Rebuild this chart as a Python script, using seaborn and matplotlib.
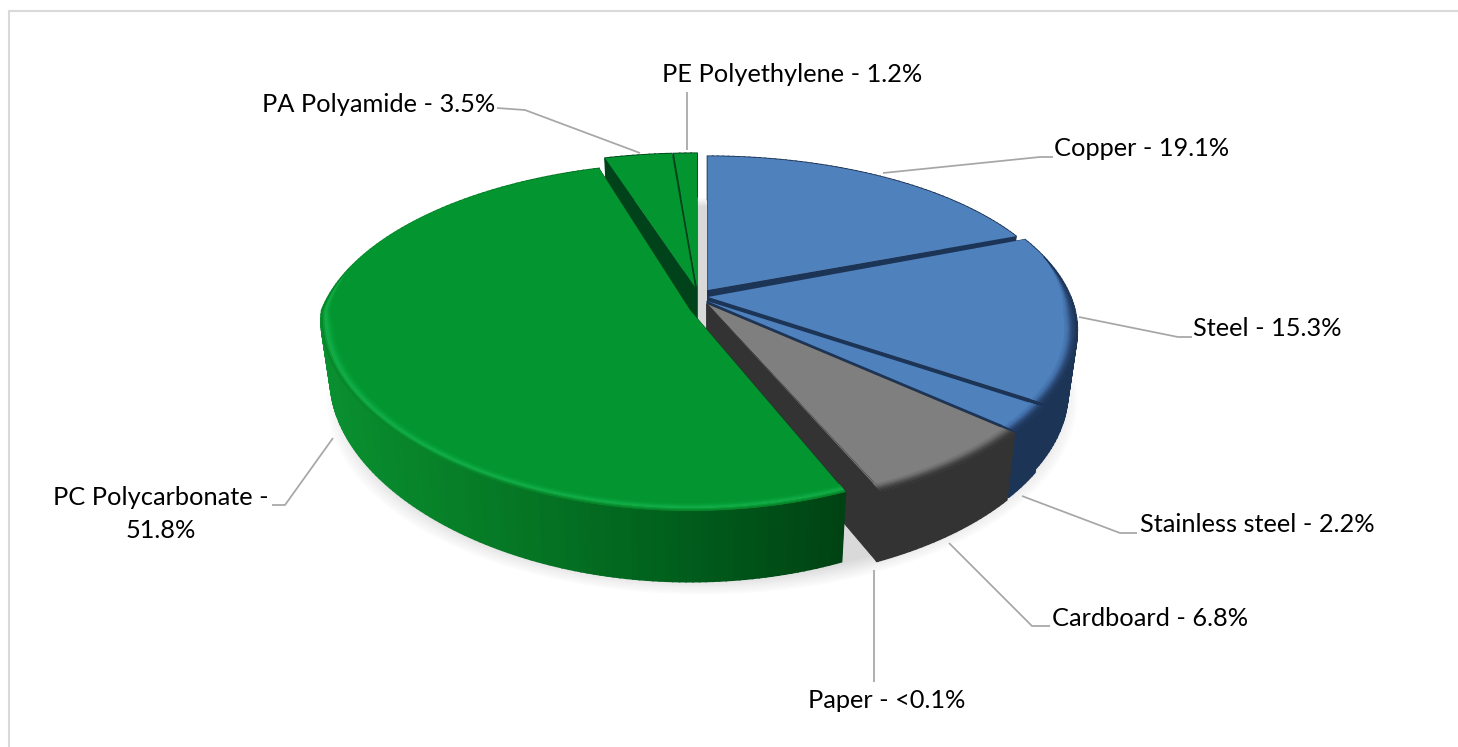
#! /usr/bin/env python3
import numpy as np
import matplotlib
matplotlib.use("Agg")
import matplotlib.pyplot as plt
import matplotlib.transforms as mtransforms
from matplotlib.patches import Polygon
import seaborn as sns

sns.set_theme(style="white")
plt.rcParams["font.family"] = ["Lato", "DejaVu Sans"]

categories = ["Copper", "Steel", "Stainless steel", "Cardboard", "Paper",
              "PC Polycarbonate", "PA Polyamide", "PE Polyethylene"]
values = [19.1, 15.3, 2.2, 6.8, 0.05, 51.8, 3.5, 1.2]
value_text = ["19.1%", "15.3%", "2.2%", "6.8%", "<0.1%", "51.8%", "3.5%", "1.2%"]

top_colors = ["#4f81bd", "#4f81bd", "#4f81bd", "#7f7f7f", "#7f7f7f", "#03952f", "#03952f", "#03952f"]
wall_colors = ["#1c3456", "#1c3456", "#1c3456", "#333333", "#333333", "#00461a", "#00431a", "#00431a"]
bevel_colors = {"#4f81bd": ["#4f81bd", "#426fa8", "#2a4672", "#1c3456"],
                "#7f7f7f": ["#7f7f7f", "#6c6c6c", "#484848", "#333333"],
                "#03952f": ["#03952f", "#07a03a", "#15b24c", "#07862a"]}
rim_green = sns.blend_palette(["#0a9030", "#067a26", "#005f1c", "#003f12"], 64)

# pixel position of each wedge tip, and its radius scale in x and y
tips = [(707.5, 290), (708, 297), (707, 301), (707, 304), (707, 304), (690, 310), (695, 287), (697, 287)]
scales_x = [0.95, 0.975, 0.975, 0.97, 0.97, 0.99, 0.98, 0.98]
scales_y = [0.91, 0.975, 0.975, 0.97, 0.97, 1.0, 0.91, 0.91]
draw_order = [7, 6, 0, 1, 2, 3, 4, 5]

R, S, K = 372, 174.6, 0.188
FRONT = {5: (0.06, 0.13)}  # PC is drawn with a flatter front


def project(u, v, i, level=0.0):
    u, v = np.asarray(u, float), np.asarray(v, float)
    kx, ky = FRONT.get(i, (K, K))
    dx = 1 + np.where(v > 0, K, kx) * v
    dy = 1 + np.where(v > 0, K, ky) * v
    x = tips[i][0] + R * scales_x[i] * (1 - 0.025 * level) * u / dx
    y = tips[i][1] - S * scales_y[i] * (1 - 0.025 * level) * v / dy + level * (58 - 18 * v)
    return x, y


class Tilt(mtransforms.Transform):
    input_dims = output_dims = 2
    is_separable = False
    has_inverse = False

    def __init__(self, i):
        super().__init__()
        self.i = i

    def transform_non_affine(self, values):
        x, y = project(values[:, 0], values[:, 1], self.i)
        return np.column_stack([x, y])


fig = plt.figure(figsize=(14.58, 7.47), dpi=100)
ax = fig.add_axes([0, 0, 1, 1])
wedges, _ = ax.pie(values, startangle=90, counterclock=False, wedgeprops={"linewidth": 0})
ax.set_aspect("auto")
ax.set_xlim(0, 1458)
ax.set_ylim(747, 0)
ax.axis("off")

# soft shadow under the disc
t = np.linspace(0, 2 * np.pi, 240)
for grow, alpha in zip(np.linspace(1.04, 0.98, 10), [0.025] * 4 + [0.03] * 6):
    sx, sy = project(np.cos(t) * grow, np.sin(t) * grow, 1, 1.0)
    ax.add_patch(Polygon(np.column_stack([sx - 6, sy + 6]), color="#7a7a7a", alpha=alpha, lw=0, zorder=0.5))

for base, i in enumerate(draw_order):
    w = wedges[i]
    z = 2 * base + 1
    w.set_facecolor(top_colors[i])
    w.set_transform(Tilt(i) + ax.transData)
    w.set_zorder(z + 1)

    a = np.radians(np.linspace(w.theta1, w.theta2, max(int(w.theta2 - w.theta1), 2) + 1))
    # straight walls of the wedge
    for end in (a[0], a[-1]):
        xt, yt = project([0, np.cos(end)], [0, np.sin(end)], i)
        xb, yb = project([0, np.cos(end)], [0, np.sin(end)], i, 1.0)
        ax.add_patch(Polygon([(xt[0], yt[0]), (xt[1], yt[1]), (xb[1], yb[1]), (xb[0], yb[0])],
                             color=wall_colors[i], lw=0.5, zorder=z))
    # outer rim, back to front
    segs = sorted(zip(a[:-1], a[1:]), key=lambda s: -np.sin(s[0]))
    for a0, a1 in segs:
        xt, yt = project([np.cos(a0), np.cos(a1)], [np.sin(a0), np.sin(a1)], i)
        xb, yb = project([np.cos(a0), np.cos(a1)], [np.sin(a0), np.sin(a1)], i, 1.0)
        c = wall_colors[i]
        if i == 5:
            c = rim_green[int(np.clip((np.cos(a0) + 1) / 1.42, 0, 1) * 63)]
        ax.add_patch(Polygon([(xt[0], yt[0]), (xt[1], yt[1]), (xb[1], yb[1]), (xb[0], yb[0])],
                             color=c, lw=1.2, zorder=z))
    # rounded edge of the top face, tapering off towards the back
    band = sns.blend_palette(bevel_colors[top_colors[i]], 8)
    radii = np.linspace(0.962, 1.0, 9)
    fine = np.radians(np.linspace(w.theta1, w.theta2, 4 * len(a)))
    front = fine[np.sin(fine) < 0.25]
    if len(front) > 1:
        taper = np.clip((0.25 - np.sin(front)) / 0.35, 0, 1)
        for k in range(8):
            ri = 1 - (1 - radii[k]) * taper
            ro = 1 - (1 - radii[k + 1]) * taper
            xi, yi = project(ri * np.cos(front), ri * np.sin(front), i)
            xo, yo = project(ro * np.cos(front), ro * np.sin(front), i)
            pts = np.column_stack([np.r_[xi, xo[::-1]], np.r_[yi, yo[::-1]]])
            ax.add_patch(Polygon(pts, color=band[k], lw=0.3, zorder=z + 1.5))

# leader lines
leaders = [[(883, 173), (1040, 157), (1053, 157)],
           [(1079, 317), (1178, 337), (1192, 337)],
           [(1022, 496), (1120, 533), (1137, 533)],
           [(949, 543), (1032, 626), (1050, 626)],
           [(874, 570), (874, 682)],
           [(333, 438), (285, 505), (272, 505)],
           [(640, 153), (525, 110), (497, 108)],
           [(687, 150), (687, 92)]]
for line in leaders:
    xs, ys = zip(*line)
    ax.plot(xs, ys, color="#a6a6a6", lw=1.25, zorder=30, solid_capstyle="butt")

# labels
label_pos = [(1142, 149), (1267, 328), (1257, 524), (1150, 618), (887, 700), (161, 514), (379, 104), (792, 75)]
for i, (x, y) in enumerate(label_pos):
    sep = " -\n" if i == 5 else " - "
    ax.text(x, y, categories[i] + sep + value_text[i], ha="center", va="center", fontsize=18.3,
            color="black", linespacing=1.55, zorder=31)

# chart frame, only top and left show
ax.plot([9.5, 1458], [11, 11], color="#d9d9d9", lw=1.5, zorder=40)
ax.plot([9.5, 9.5], [11, 747], color="#d9d9d9", lw=1.5, zorder=40)

fig.savefig("out.png", dpi=100)
